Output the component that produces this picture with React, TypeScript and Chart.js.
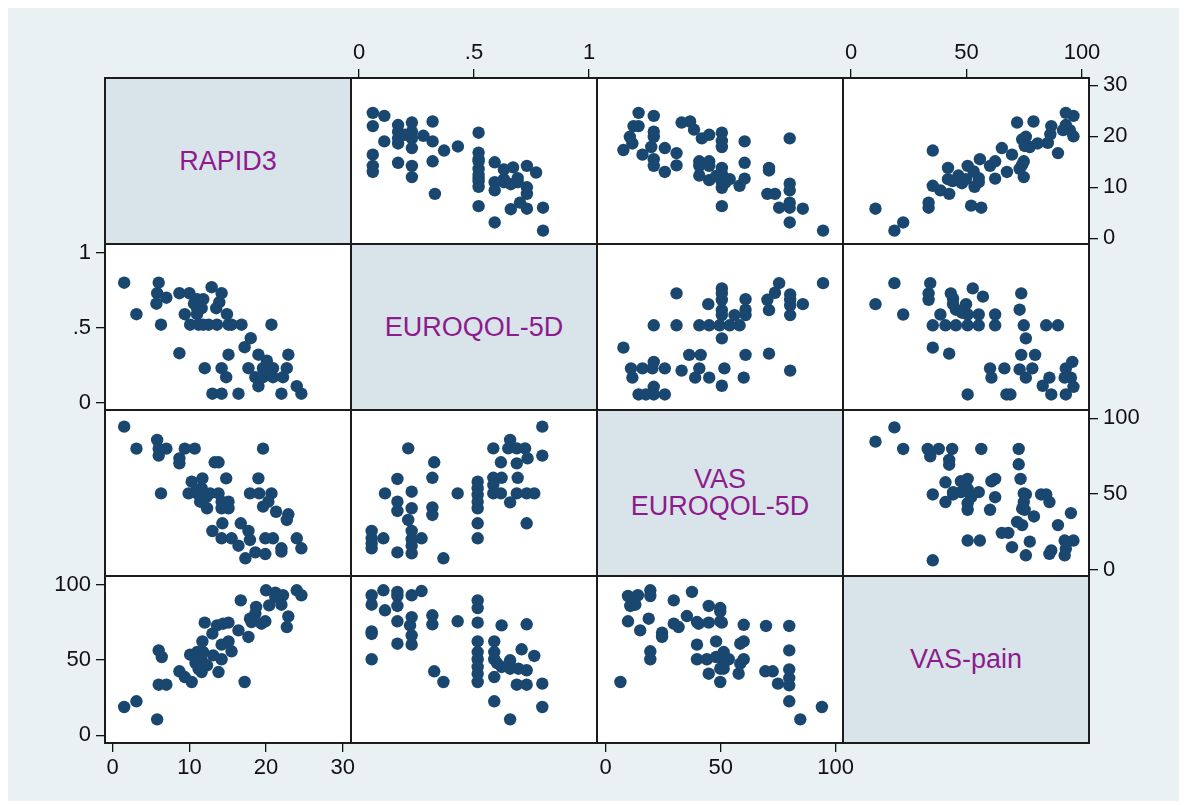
import React, { useEffect, useRef } from "react";
import { Chart, registerables } from "chart.js";

Chart.register(...registerables);

// ---------- variables & tick labels ----------
const varNames = ["RAPID3", "EUROQOL-5D", "VAS\nEUROQOL-5D", "VAS-pain"];
const rapidTicks = [0, 10, 20, 30];
const rapidTickLabels = ["0", "10", "20", "30"];
const eqTicks = [0, 0.5, 1];
const eqTickLabels = ["0", ".5", "1"];
const vasTicks = [0, 50, 100];
const vasTickLabels = ["0", "50", "100"];
const painTicks = [0, 50, 100];
const painTickLabels = ["0", "50", "100"];

// ---------- data (pairs of variables) ----------
// RAPID3 vs EUROQOL-5D
const rapidEqR = [1.5, 6.0, 5.8, 7.0, 5.7, 3.1, 6.3, 8.7, 10.0, 11.0, 11.8, 11.0, 11.6, 9.4, 11.0, 12.9, 14.2, 13.9, 13.5, 14.9,
  10.1, 11.2, 11.8, 12.5, 13.6, 15.1, 15.5, 16.8, 20.7, 18.0, 17.2, 8.7, 15.1, 19.0, 22.9, 20.1,
  12.0, 14.2, 17.7, 19.6, 20.9, 22.7, 14.8, 18.6, 19.6, 20.9, 22.2, 19.0, 24.0, 24.6, 13.0, 14.2, 16.4, 22.0, 10.6, 20.3];
const rapidEqE = [0.80, 0.80, 0.73, 0.70, 0.66, 0.59, 0.52, 0.73, 0.73, 0.69, 0.69, 0.63, 0.63, 0.59, 0.59, 0.77, 0.73, 0.67, 0.63, 0.59,
  0.52, 0.52, 0.52, 0.52, 0.52, 0.52, 0.52, 0.52, 0.52, 0.43, 0.37, 0.33, 0.32, 0.32, 0.32, 0.28,
  0.23, 0.23, 0.23, 0.23, 0.23, 0.23, 0.17, 0.17, 0.17, 0.17, 0.17, 0.11, 0.11, 0.06, 0.06, 0.06, 0.06, 0.06, 0.66, 0.20];

// RAPID3 vs VAS EUROQOL-5D
const rapidVasR = [1.5, 3.1, 5.8, 6.0, 7.0, 6.0, 8.7, 8.7, 9.4, 10.7, 19.6, 13.3, 13.8, 14.8, 19.0, 10.3, 11.7, 6.3,
  9.9, 11.0, 11.8, 12.7, 13.8, 17.9, 19.1, 20.7, 11.6, 11.4, 14.2, 15.1, 12.3, 14.2, 15.1, 20.3, 19.6, 21.3,
  22.9, 22.7, 14.3, 16.7, 13.0, 17.7, 14.2, 15.5, 17.9, 19.9, 20.9, 24.0, 16.4, 22.0, 22.0, 24.6, 18.6, 19.9, 17.3, 10.9, 12.2];
const rapidVasV = [94.5, 80, 85.7, 80, 80, 75.4, 73.6, 70.3, 80, 80, 80, 71, 71, 60.4, 60.4, 58.2, 60.4, 50.5,
  50.5, 50.5, 50.5, 50.5, 50.5, 50.5, 50.5, 50.5, 53.9, 45, 45, 45, 40.7, 40.7, 40.7, 45, 41.8, 38.4,
  36.7, 33, 30.8, 30.8, 25.7, 25.7, 20.9, 20.9, 19.8, 20.9, 20.9, 20.9, 16, 14.3, 12.1, 14.3, 11.6, 10.5, 7.7, 52, 48];

// RAPID3 vs VAS-pain
const rapidPainR = [1.5, 3.1, 5.8, 6.0, 7.0, 6.0, 6.4, 8.7, 9.4, 10.3, 10.1, 11.0, 11.8, 11.6, 12.3, 11.6, 11.7, 12.0,
  13.1, 14.2, 13.8, 13.0, 13.6, 14.4, 15.1, 14.2, 15.1, 15.5, 16.4, 17.7, 17.2, 16.7, 17.9, 18.1, 18.7, 19.4,
  19.9, 20.0, 20.4, 21.2, 21.2, 22.2, 22.0, 22.9, 22.7, 24.0, 24.6, 18.6, 10.8, 11.2];
const rapidPainP = [18.8, 22.6, 10.6, 33.6, 33.6, 56.4, 52, 42.5, 38.7, 35.4, 53.5, 55.3, 55.3, 49.8, 46.5, 42, 62.4, 74.8,
  53.1, 50.5, 42, 67.5, 73, 74.1, 74.8, 60.2, 62.4, 55.8, 69.7, 65.3, 35.4, 89.6, 77.4, 75.2, 85.2, 74.1,
  75.7, 96.3, 86.3, 94.7, 91.8, 93, 86.7, 79, 71.9, 96.3, 93, 80.8, 48, 44];

// EUROQOL-5D vs VAS EUROQOL-5D
const eqVasE = [0.797, 0.214, 0.327, 0.319, 0.167, 0.113, 0.229, 0.167, 0.167, 0.229, 0.319, 0.319, 0.214, 0.055, 0.055, 0.055,
  0.106, 0.229, 0.229, 0.272, 0.167, 0.229, 0.367, 0.429, 0.516, 0.516, 0.516, 0.516, 0.516, 0.516, 0.516,
  0.584, 0.657, 0.649, 0.686, 0.722, 0.733, 0.797, 0.617, 0.686, 0.584, 0.62, 0.69, 0.584, 0.584, 0.617, 0.686,
  0.729, 0.762, 0.657, 0.729, 0.055, 0.229];
const eqVasV = [94.5, 80.2, 71, 60.8, 60, 50.5, 51.6, 45, 38.9, 40.7, 41.3, 36.3, 33, 25.7, 20.9, 14.3,
  20.9, 25.7, 20.3, 20.9, 11.6, 11, 7.7, 50.5, 58.2, 53.9, 49.5, 45, 40.7, 30.8, 20.9,
  80.2, 85.7, 80.2, 80.2, 80.2, 73.6, 75.4, 71, 70.3, 60.8, 60.8, 60.8, 56, 50.5, 50.5, 50.5,
  50.5, 50.5, 44.6, 30.8, 17.5, 16];

// EUROQOL-5D vs VAS-pain
const eqPainE = [0.055, 0.055, 0.106, 0.167, 0.167, 0.229, 0.272, 0.113, 0.167, 0.167, 0.229, 0.222, 0.229, 0.229, 0.055, 0.055,
  0.167, 0.055, 0.319, 0.319, 0.429, 0.327, 0.367, 0.516, 0.516, 0.516, 0.516, 0.516, 0.516, 0.516, 0.516, 0.516,
  0.62, 0.729, 0.588, 0.588, 0.588, 0.588, 0.62, 0.657, 0.657, 0.693, 0.707, 0.729, 0.762, 0.686, 0.729, 0.797,
  0.588, 0.797, 0.657, 0.6];
const eqPainP = [93, 86.7, 96.3, 95.2, 92.5, 93, 95.8, 83, 85.9, 75.7, 78.5, 73, 66.4, 60.2, 69, 67.3,
  60.8, 50.5, 79.7, 73.7, 75.7, 42.5, 35.4, 89.6, 84.5, 74.8, 62.4, 55.3, 50.5, 45.4, 40.9, 35.4,
  73, 73.7, 62.4, 55.3, 50.5, 38.7, 45.4, 49.8, 44.2, 44.2, 57.1, 43.2, 52.7, 33.6, 33.6, 34.3,
  22.6, 18.8, 10.6, 48];

// VAS EUROQOL-5D vs VAS-pain
const vasPainV = [9.7, 14, 19.4, 19.4, 10.7, 12.9, 9.7, 15, 18.7, 19.4, 19.4, 6.4, 24.5, 24.5, 29.6, 37.5, 29.6, 31.7,
  35.3, 39.7, 40.4, 44.8, 44.8, 49.8, 49.8, 49.8, 50.5, 39.7, 48, 39.7, 44, 48, 51.3, 53.5, 51.3, 49.8, 51.3,
  44.8, 49.8, 57.8, 58.5, 60, 60, 58.5, 60, 69.7, 69.4, 72.6, 74.9, 79.8, 79.8, 79.8, 79.8, 79.8, 79.8, 94, 84.6];
const vasPainP = [92.5, 93, 96.3, 92.5, 85.9, 86.7, 75.7, 69.7, 77.4, 55.8, 50.5, 35.4, 68.1, 65.3, 89.6, 95.2, 74.1, 71.9,
  79.2, 75.2, 74.1, 74.8, 85.9, 84.5, 82.3, 75.7, 74.8, 60.2, 62.4, 50.5, 50.5, 52, 55.3, 50.5, 47.6, 44.2, 44.2,
  40.9, 35.4, 40.9, 60.8, 62.4, 50.5, 47.6, 73.4, 72.6, 42.5, 42.5, 34.3, 72.6, 56.4, 43.8, 38, 33.2, 22.6, 18.8, 10.6];

const pairs: Record<string, [number[], number[]]> = {
  "01": [rapidEqR, rapidEqE],
  "02": [rapidVasR, rapidVasV],
  "03": [rapidPainR, rapidPainP],
  "12": [eqVasE, eqVasV],
  "13": [eqPainE, eqPainP],
  "23": [vasPainV, vasPainP],
};

const tickVals = [rapidTicks, eqTicks, vasTicks, painTicks];
const tickLabs = [rapidTickLabels, eqTickLabels, vasTickLabels, painTickLabels];

// ---------- layout ----------
const ORIGIN_X = 6;
const ORIGIN_Y = 8;
const COLS = [105, 351, 597, 843, 1089];
const ROWS = [78, 244, 410, 576, 743];
const X_RANGE = [[-1.0, 31.07], [-0.0348, 1.0348], [-3.78, 103.17], [-3.46, 103.03]];
const Y_RANGE = [[-1.12, 31.43], [-0.0487, 1.058], [-3.96, 105.47], [-5.11, 105.78]];
const M = 80;
const FONT = "'Liberation Sans', Arial, Helvetica, sans-serif";
const MARKER = "#1a476f";
const LABEL_BG = "#d8e4e9";
const OUTER_BG = "#e9f1f3";
const LABEL_COLOR = "#8e1b8e";

function DataCell({ r, c }: { r: number; c: number }) {
  const ref = useRef<HTMLCanvasElement | null>(null);
  const w = COLS[c + 1] - COLS[c];
  const h = ROWS[r + 1] - ROWS[r];
  const showTop = r === 0 && c % 2 === 1;
  const showBottom = r === 3 && c % 2 === 0;
  const showLeft = c === 0 && r % 2 === 1;
  const showRight = c === 3 && r % 2 === 0;

  useEffect(() => {
    const lo = Math.min(r, c);
    const hi = Math.max(r, c);
    const [a, b] = pairs[`${lo}${hi}`];
    const xs = c === lo ? a : b;
    const ys = c === lo ? b : a;
    const pts = xs.map((x, i) => ({ x, y: ys[i] }));

    const tickFont = { family: FONT, size: 22 };
    const mkScale = (v: number, range: number[], pos: string, shown: boolean, horizontal: boolean) => {
      const s: any = {
        type: "linear",
        position: pos,
        display: shown,
        min: range[0],
        max: range[1],
        grid: { drawOnChartArea: false, drawTicks: true, tickLength: 9, color: "#111", lineWidth: 1.3 },
        border: { display: false },
        ticks: {
          font: tickFont,
          color: "#111",
          padding: horizontal ? 3 : 5,
          maxRotation: 0,
          autoSkip: false,
          callback: (_val: any, i: number) => tickLabs[v][i],
        },
        afterBuildTicks: (sc: any) => {
          sc.ticks = tickVals[v].map((t) => ({ value: t }));
        },
      };
      if (shown) {
        s.afterFit = (sc: any) => {
          if (horizontal) sc.height = M;
          else sc.width = M;
          sc.paddingLeft = 0;
          sc.paddingRight = 0;
          sc.paddingTop = 0;
          sc.paddingBottom = 0;
        };
      }
      return s;
    };

    const chart = new Chart(ref.current as HTMLCanvasElement, {
      type: "scatter",
      data: {
        datasets: [
          {
            data: pts,
            backgroundColor: MARKER,
            borderColor: MARKER,
            borderWidth: 0,
            pointRadius: 6.2,
            pointHoverRadius: 6.2,
          },
        ],
      },
      options: {
        animation: false,
        responsive: false,
        maintainAspectRatio: false,
        events: [],
        layout: {
          padding: {
            left: showLeft ? 0 : M,
            right: showRight ? 0 : M,
            top: showTop ? 0 : M,
            bottom: showBottom ? 0 : M,
          },
        },
        plugins: { legend: { display: false }, tooltip: { enabled: false } },
        scales: {
          x: mkScale(c, X_RANGE[c], showTop ? "top" : "bottom", showTop || showBottom, true),
          y: mkScale(r, Y_RANGE[r], showRight ? "right" : "left", showLeft || showRight, false),
        } as any,
      },
    });
    return () => chart.destroy();
  }, [r, c]);

  return (
    <canvas
      ref={ref}
      width={w + 2 * M}
      height={h + 2 * M}
      style={{
        position: "absolute",
        left: COLS[c] - M - ORIGIN_X,
        top: ROWS[r] - M - ORIGIN_Y,
        width: w + 2 * M,
        height: h + 2 * M,
      }}
    />
  );
}

export default function App() {
  const cells: React.ReactNode[] = [];
  const canvases: React.ReactNode[] = [];
  for (let r = 0; r < 4; r++) {
    for (let c = 0; c < 4; c++) {
      const left = COLS[c] - ORIGIN_X;
      const top = ROWS[r] - ORIGIN_Y;
      const w = COLS[c + 1] - COLS[c];
      const h = ROWS[r + 1] - ROWS[r];
      const diag = r === c;
      cells.push(
        <div
          key={`cell-${r}-${c}`}
          style={{
            position: "absolute",
            left: left - 1,
            top: top - 1,
            width: w + 2,
            height: h + 2,
            boxSizing: "border-box",
            border: "2px solid #1c1c1c",
            background: diag ? LABEL_BG : "#ffffff",
            display: "flex",
            alignItems: "center",
            justifyContent: "center",
            textAlign: "center",
            fontFamily: FONT,
            fontSize: 27,
            lineHeight: "27px",
            color: LABEL_COLOR,
            whiteSpace: "pre-line",
          }}
        >
          {diag ? varNames[r] : null}
        </div>
      );
      if (!diag) canvases.push(<DataCell key={`chart-${r}-${c}`} r={r} c={c} />);
    }
  }
  return (
    <div
      style={{
        position: "relative",
        width: 1175,
        height: 793,
        marginLeft: -2,
        background: OUTER_BG,
        overflow: "hidden",
      }}
    >
      {cells}
      {canvases}
    </div>
  );
}
